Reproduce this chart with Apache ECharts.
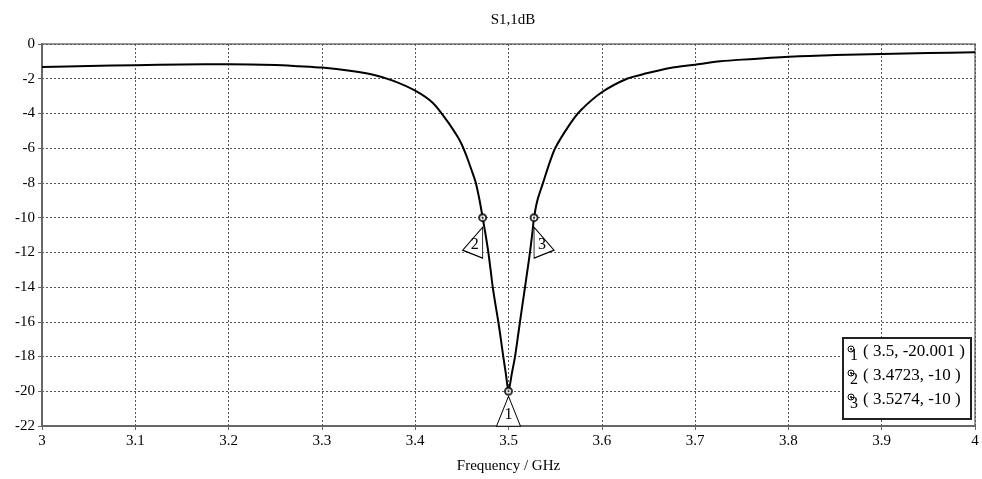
<!DOCTYPE html>
<html>
<head>
<meta charset="utf-8">
<script src="https://cdn.jsdelivr.net/npm/echarts@6/dist/echarts.min.js"></script>
<style>
  html, body { margin: 0; padding: 0; background: #fff; }
  #chart { width: 982px; height: 479px; }
</style>
</head>
<body>
<div id="chart"></div>
<script>
// S11 curve
const freq = [3.00, 3.05, 3.10, 3.15, 3.20, 3.25, 3.275, 3.30, 3.33, 3.355, 3.376, 3.40, 3.419, 3.434, 3.445, 3.45, 3.455, 3.46, 3.465, 3.469,
              3.4723, 3.4755, 3.4784, 3.4808, 3.4831, 3.486, 3.4891, 3.4918, 3.4944, 3.4972, 3.50,
              3.5035, 3.507, 3.5097, 3.5123, 3.515, 3.5177, 3.5204, 3.523, 3.5253, 3.5274,
              3.531, 3.537, 3.543, 3.55, 3.566, 3.577, 3.60, 3.627, 3.648, 3.673, 3.70, 3.727, 3.75, 3.80, 3.85, 3.90, 3.95, 4.00]
const s11 = [-1.32, -1.27, -1.22, -1.18, -1.17, -1.21, -1.28, -1.36, -1.54, -1.77, -2.11, -2.69, -3.4, -4.41, -5.3, -5.8, -6.45, -7.2, -8.0, -9.0,
             -10, -11, -12, -13, -14, -15, -16, -17, -18, -19, -20.001,
             -19, -18, -17, -16, -15, -14, -13, -12, -11, -10,
             -9, -8, -7, -6, -4.6, -3.84, -2.78, -2.0, -1.69, -1.38, -1.19, -1.0, -0.9, -0.73, -0.64, -0.57, -0.52, -0.48]

// markers
const markerNames = ['1', '2', '3']
const markerFreq = [3.5, 3.4723, 3.5274]
const markerVal = [-20.001, -10, -10]

const serif = 'Liberation Serif'
const chart = echarts.init(document.getElementById('chart'))

// marker flags (triangle + number)
const flags = [
  { path: 'path://M12,0 L24,30 L0,30 Z', size: [24, 30], offset: [0, 20], labelOffset: [0, 4] },
  { path: 'path://M20,0 L20,31 L0,23 Z', size: [20, 31], offset: [-10, 25], labelOffset: [2, 2] },
  { path: 'path://M0,0 L0,31 L20,23 Z', size: [20, 31], offset: [10, 25], labelOffset: [-2, 2] }
]

chart.setOption({
  animation: false,
  title: {
    text: 'S1,1dB',
    left: 508, top: 8, textAlign: 'center',
    textStyle: { fontFamily: serif, fontSize: 15, fontWeight: 'normal', color: '#000' }
  },
  grid: {
    left: 42, right: 7, top: 44, bottom: 53,
    show: true, borderColor: '#999', borderWidth: 2
  },
  xAxis: {
    type: 'value', min: 3, max: 4, interval: 0.1,
    name: 'Frequency / GHz', nameLocation: 'middle', nameGap: 33,
    nameTextStyle: { fontFamily: serif, fontSize: 15, color: '#000' },
    axisLine: { onZero: false, lineStyle: { color: '#666', width: 2 } },
    axisTick: { show: true, length: 4, lineStyle: { color: '#666' } },
    axisLabel: { fontFamily: serif, fontSize: 15, color: '#000', margin: 8,
      formatter: v => String(Math.round(v * 10) / 10) },
    splitLine: { show: true, lineStyle: { color: '#555', type: [2, 2], width: 1 } }
  },
  yAxis: {
    type: 'value', min: -22, max: 0, interval: 2,
    axisLine: { show: true, lineStyle: { color: '#666', width: 2 } },
    axisTick: { show: true, length: 4, lineStyle: { color: '#666' } },
    axisLabel: { fontFamily: serif, fontSize: 15, color: '#000', margin: 7 },
    splitLine: { show: true, lineStyle: { color: '#555', type: [2, 2], width: 1 } }
  },
  series: [
    {
      type: 'line',
      data: freq.map((f, i) => [f, s11[i]]),
      showSymbol: false,
      smooth: 0.25,
      lineStyle: { color: '#000', width: 2 },
      z: 3
    },
    {
      type: 'scatter',
      data: markerFreq.map((f, i) => [f, markerVal[i]]),
      symbol: 'emptyCircle', symbolSize: 7,
      itemStyle: { color: '#000', borderColor: '#000', borderWidth: 1 },
      z: 5,
      markPoint: {
        data: markerFreq.map((f, i) => ({
          coord: [f, markerVal[i]],
          symbol: flags[i].path,
          symbolSize: flags[i].size,
          symbolOffset: flags[i].offset,
          symbolKeepAspect: false,
          itemStyle: { color: '#fff', borderColor: '#000', borderWidth: 1 },
          label: {
            show: true, position: 'inside', formatter: markerNames[i],
            offset: flags[i].labelOffset,
            fontFamily: serif, fontSize: 16, color: '#000'
          }
        }))
      }
    },
    {
      type: 'scatter',
      data: markerFreq.map((f, i) => [f, markerVal[i]]),
      symbol: 'circle', symbolSize: 2,
      itemStyle: { color: '#000' },
      z: 6
    }
  ],
  graphic: [
    {
      type: 'group', left: 842, top: 337, z: 100,
      children: [
        { type: 'rect', z: 100, shape: { x: 0, y: 0, width: 128, height: 81 },
          style: { fill: '#fff', stroke: '#222', lineWidth: 2 } }
      ].concat(...markerNames.map((n, i) => [
        { type: 'circle', z: 101, shape: { cx: 8, cy: 11 + i * 24, r: 3 },
          style: { fill: '#fff', stroke: '#000', lineWidth: 1 } },
        { type: 'circle', z: 102, shape: { cx: 8, cy: 11 + i * 24, r: 1 },
          style: { fill: '#000' } },
        { type: 'text', z: 101, x: 7, y: 10 + i * 24,
          style: { text: n, font: '16px ' + serif, fill: '#000' } },
        { type: 'text', z: 101, x: 20, y: 5 + i * 24,
          style: { text: '( ' + markerFreq[i] + ', ' + markerVal[i] + ' )', font: '17px ' + serif, fill: '#000' } }
      ]))
    }
  ]
})
</script>
</body>
</html>
